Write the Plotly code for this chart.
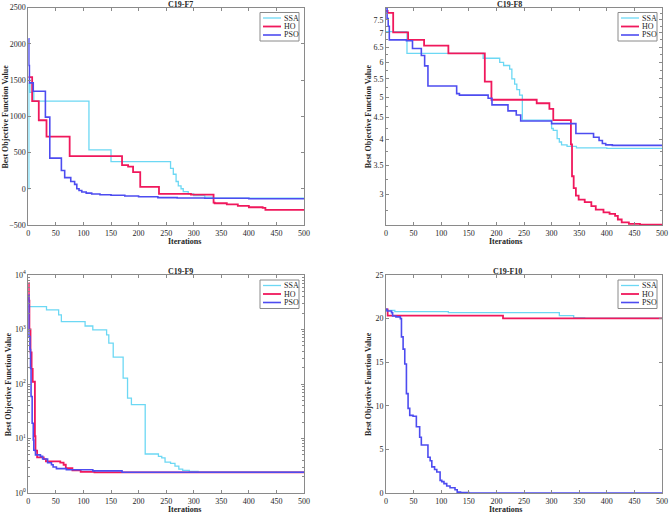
import numpy as np
import plotly.graph_objects as go
from plotly.subplots import make_subplots

# C19-F7  (step curves: iteration where value starts, best value)
f7_ssa_x = [0, 1, 3, 10, 110, 150, 258, 263, 268, 272, 277, 281, 290, 300, 320, 335, 500]
f7_ssa_y = [0, 1450, 1330, 1210, 537, 375, 280, 200, 100, 40, 0, -40, -70, -95, -115, -130, -140]
f7_ho_x = [0, 7, 19, 33, 75, 170, 181, 190, 203, 237, 295, 336, 338, 360, 380, 400, 425, 430, 500]
f7_ho_y = [1540, 1210, 945, 720, 450, 325, 305, 230, 25, -72, -82, -190, -200, -215, -235, -255, -265, -290, -292]
f7_pso_x = [0, 1, 2, 9, 31, 39, 60, 66, 77, 84, 88, 92, 97, 105, 115, 130, 150, 175, 200, 235, 270, 320, 400, 500]
f7_pso_y = [2070, 1700, 1460, 1345, 988, 423, 251, 154, 100, 60, 0, -25, -45, -60, -72, -82, -90, -100, -110, -122, -127, -132, -137, -141]

# C19-F8
f8_ssa_x = [0, 38, 176, 206, 213, 224, 228, 233, 237, 242, 247, 300, 303, 310, 314, 318, 328, 345, 400, 500]
f8_ssa_y = [7.05, 6.29, 6.13, 6.0, 5.9, 5.79, 5.5, 5.35, 5.2, 5.05, 4.43, 4.24, 4.2, 4.02, 3.95, 3.89, 3.86, 3.83, 3.82, 3.81]
f8_ho_x = [0, 3, 13, 40, 69, 113, 179, 191, 273, 296, 303, 335, 337, 340, 344, 349, 360, 372, 380, 394, 405, 415, 420, 427, 440, 460, 500]
f8_ho_y = [7.86, 7.78, 7.02, 6.75, 6.55, 6.29, 5.42, 4.93, 4.84, 4.70, 4.43, 3.9, 3.3, 3.1, 2.98, 2.92, 2.88, 2.82, 2.77, 2.73, 2.71, 2.68, 2.63, 2.59, 2.57, 2.56, 2.555]
f8_pso_x = [0, 2, 4, 6, 37, 48, 64, 70, 76, 128, 133, 185, 192, 221, 236, 244, 300, 344, 376, 386, 392, 398, 410, 500]
f8_pso_y = [7.99, 7.55, 7.25, 6.75, 6.72, 6.45, 6.22, 5.89, 5.3, 5.09, 5.05, 4.97, 4.8, 4.65, 4.55, 4.41, 4.35, 4.13, 4.05, 3.98, 3.92, 3.89, 3.88, 3.87]

# C19-F9
f9_ssa_x = [0, 33, 55, 60, 103, 117, 142, 146, 154, 172, 180, 187, 212, 236, 242, 248, 258, 266, 273, 280, 292, 308, 500]
f9_ssa_y = [2630, 2300, 1850, 1400, 1160, 985, 800, 560, 310, 128, 55, 42, 5.2, 4.7, 4.4, 3.7, 3.5, 3.1, 2.75, 2.6, 2.5, 2.42, 2.38]
f9_ho_x = [0, 1, 2, 4, 6, 8, 12, 13, 16, 28, 32, 58, 64, 68, 80, 95, 120, 500]
f9_ho_y = [7100, 3400, 1000, 380, 190, 110, 11, 6, 4.5, 4.2, 3.8, 3.6, 3.3, 2.85, 2.6, 2.45, 2.4, 2.38]
f9_pso_x = [0, 1, 3, 4, 5, 7, 9, 10, 13, 22, 26, 35, 42, 45, 51, 69, 117, 170, 500]
f9_pso_y = [4300, 740, 430, 195, 59, 19, 9.4, 6.1, 5.0, 4.7, 4.2, 3.6, 3.3, 3.0, 2.8, 2.67, 2.55, 2.4, 2.38]

# C19-F10
f10_ssa_x = [0, 1, 16, 113, 314, 340, 360, 500]
f10_ssa_y = [21.06, 20.95, 20.79, 20.68, 20.33, 20.1, 20.05, 20.02]
f10_ho_x = [0, 3, 212, 500]
f10_ho_y = [21.06, 20.33, 20.03, 20.0]
f10_pso_x = [0, 2, 10, 12, 18, 26, 28, 31, 34, 37, 40, 43, 49, 55, 61, 64, 76, 80, 83, 88, 92, 98, 101, 105, 110, 116, 125, 129, 135, 150, 500]
f10_pso_y = [21.06, 20.87, 20.68, 20.29, 20.2, 20.0, 17.9, 16.5, 14.8, 11.4, 9.7, 8.9, 8.8, 7.6, 6.4, 5.5, 4.1, 3.7, 3.0, 2.7, 2.4, 1.45, 1.3, 1.07, 0.8, 0.6, 0.38, 0.1, 0.05, 0.0, 0.0]

titles = ["C19-F7", "C19-F8", "C19-F9", "C19-F10"]
names = ["SSA", "HO", "PSO"]
colors = ["#6cd8f4", "#f0185c", "#4d4cf0"]
widths = [1.3, 1.8, 1.6]

panels = [
    [(f7_ssa_x, f7_ssa_y), (f7_ho_x, f7_ho_y), (f7_pso_x, f7_pso_y)],
    [(f8_ssa_x, f8_ssa_y), (f8_ho_x, f8_ho_y), (f8_pso_x, f8_pso_y)],
    [(f9_ssa_x, f9_ssa_y), (f9_ho_x, f9_ho_y), (f9_pso_x, f9_pso_y)],
    [(f10_ssa_x, f10_ssa_y), (f10_ho_x, f10_ho_y), (f10_pso_x, f10_pso_y)],
]

W, H = 669, 513
FONT = "Liberation Serif"
AXC = "#8a8a8a"

# plot areas in pixels: (left, right, top, bottom) + y-title offset from left edge
boxes = [(28.3, 304, 7.5, 225), (386, 662, 7.5, 225),
         (28.3, 304, 275, 493), (386, 662, 275, 493)]
ytitle_off = [23, 18, 20, 18]

fig = make_subplots(rows=2, cols=2)

for k, series in enumerate(panels):
    r, c = k // 2 + 1, k % 2 + 1
    for (x, y), n, col, w in zip(series, names, colors, widths):
        fig.add_trace(
            go.Scatter(x=x, y=y, mode="lines", name=n, showlegend=False,
                       line=dict(color=col, width=w, shape="hv")),
            row=r, col=c)

axis_common = dict(
    showline=True, mirror="ticks", linecolor=AXC, linewidth=1,
    ticks="inside", ticklen=3, tickcolor=AXC, showgrid=False, zeroline=False,
    tickfont=dict(family=FONT, size=8, color="#262626"), automargin=False,
)
title_font = dict(family=FONT, size=8, color="#262626", weight="bold")

for k, (l, rr, t, b) in enumerate(boxes):
    xa = "xaxis" if k == 0 else f"xaxis{k+1}"
    ya = "yaxis" if k == 0 else f"yaxis{k+1}"
    fig.layout[xa].update(domain=[l / W, rr / W], range=[0, 500], tick0=0, dtick=50, **axis_common)
    fig.layout[ya].update(domain=[1 - b / H, 1 - t / H], **axis_common)

# y axes
fig.update_layout(
    yaxis=dict(range=[-500, 2500], tick0=-500, dtick=500),
    yaxis2=dict(type="log", range=[np.log10(2.555), np.log10(8.0)],
                tickvals=[3, 3.5, 4, 4.5, 5, 5.5, 6, 6.5, 7, 7.5],
                ticktext=["3", "3.5", "4", "4.5", "5", "5.5", "6", "6.5", "7", "7.5"],
                minor=dict(ticks="inside", ticklen=2, tickcolor=AXC,
                           tickvals=[2.75, 3.25, 3.75, 4.25, 4.75, 5.25, 5.75, 6.25, 6.75, 7.25, 7.75])),
    yaxis3=dict(type="log", range=[0, 4],
                tickvals=[1, 10, 100, 1000, 10000],
                ticktext=["10<sup>0</sup>", "10<sup>1</sup>", "10<sup>2</sup>", "10<sup>3</sup>", "10<sup>4</sup>"],
                minor=dict(ticks="inside", ticklen=2, tickcolor=AXC,
                           tickvals=[m * 10 ** e for e in range(4) for m in range(2, 10)])),
    yaxis4=dict(range=[0, 25], tick0=0, dtick=5),
)

# panel titles, axis titles and MATLAB-style small legends
for k, (l, rr, t, b) in enumerate(boxes):
    fig.add_annotation(x=(l + rr) / 2 / W, y=1 - (t - 3.5) / H, xref="paper", yref="paper",
                       text=titles[k], showarrow=False, yanchor="middle",
                       font=title_font)
    fig.add_annotation(x=(l + rr) / 2 / W, y=1 - (b + 16.5) / H, xref="paper", yref="paper",
                       text="Iterations", showarrow=False, yanchor="middle",
                       font=title_font)
    fig.add_annotation(x=(l - ytitle_off[k]) / W, y=1 - (t + b) / 2 / H, xref="paper", yref="paper",
                       text="Best Objective Function Value", showarrow=False, textangle=-90,
                       xanchor="center", yanchor="middle", font=title_font)
    bx1, by0 = rr - 5, t + 5
    bx0, by1 = bx1 - 39, by0 + 28.5
    fig.add_shape(type="rect", xref="paper", yref="paper",
                  x0=bx0 / W, x1=bx1 / W, y0=1 - by0 / H, y1=1 - by1 / H,
                  line=dict(color=AXC, width=1), fillcolor="white")
    for i, (n, col, w) in enumerate(zip(names, colors, widths)):
        yy = by0 + 5.5 + i * 8.5
        fig.add_shape(type="line", xref="paper", yref="paper",
                      x0=(bx0 + 3) / W, x1=(bx0 + 21) / W, y0=1 - yy / H, y1=1 - yy / H,
                      line=dict(color=col, width=w))
        fig.add_annotation(x=(bx0 + 22) / W, y=1 - yy / H, xref="paper", yref="paper",
                           text=n, showarrow=False, xanchor="left", yanchor="middle",
                           font=dict(family=FONT, size=8, color="#262626"))

fig.update_layout(
    width=W, height=H,
    margin=dict(l=0, r=0, t=0, b=0),
    paper_bgcolor="white", plot_bgcolor="white",
    showlegend=False,
)

# page body margin would shift the 669x513 figure; remove it
fig.write_html("out.html", config={"displayModeBar": False},
               post_script="document.body.style.margin='0';")
